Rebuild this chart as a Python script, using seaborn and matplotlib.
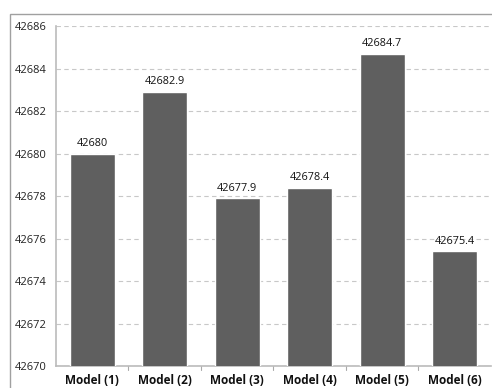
import matplotlib
matplotlib.use("Agg")
import matplotlib.pyplot as plt
import seaborn as sns
import pandas as pd
from matplotlib.patches import Rectangle

models = ["Model (1)", "Model (2)", "Model (3)", "Model (4)", "Model (5)", "Model (6)"]
values = [42680, 42682.9, 42677.9, 42678.4, 42684.7, 42675.4]
labels = ["42680", "42682.9", "42677.9", "42678.4", "42684.7", "42675.4"]
yticks = [42670, 42672, 42674, 42676, 42678, 42680, 42682, 42684, 42686]

sns.set_style("white")
plt.rcParams["font.family"] = ["Open Sans", "DejaVu Sans"]

df = pd.DataFrame({"model": models, "value": values})

fig = plt.figure(figsize=(4.92, 3.88), dpi=100)
ax = fig.add_axes([0.1138, 0.0567, 0.884, 0.876])

sns.barplot(data=df, x="model", y="value", color="#5f5f5f", saturation=1,
            width=0.62, ax=ax, zorder=3)

ax.set_ylim(42670, 42686)
ax.set_xlim(-0.5, 5.5)
ax.set_yticks(yticks)
ax.set_yticklabels([str(t) for t in yticks], fontsize=8, color="#222222")
ax.set_xlabel("")
ax.set_ylabel("")
ax.set_xticks(range(len(models)))
ax.set_xticklabels(models, fontsize=8.5, fontweight="bold", color="#111111")
ax.tick_params(axis="x", length=0, pad=6)
ax.tick_params(axis="y", length=4, color="#aaaaaa", width=0.8, pad=3)

# category separators on the x axis
for b in [0.5, 1.5, 2.5, 3.5, 4.5]:
    ax.plot([b, b], [0, -0.012], transform=ax.get_xaxis_transform(),
            color="#aaaaaa", lw=0.8, clip_on=False)

ax.yaxis.grid(True, linestyle=(0, (4, 3)), color="#c8c8c8", lw=0.8, zorder=0)
for s in ["top", "right"]:
    ax.spines[s].set_visible(False)
for s in ["left", "bottom"]:
    ax.spines[s].set_color("#bbbbbb")
    ax.spines[s].set_linewidth(1.2)

for i, (v, lab) in enumerate(zip(values, labels)):
    ax.text(i, v + 0.22, lab, ha="center", va="bottom", fontsize=7.8, color="#111111")

# outer chart frame
fig.patches.append(Rectangle((10 / 492, -0.01), 1.0, 1 - 14 / 388 + 0.01,
                             transform=fig.transFigure, fill=False,
                             edgecolor="#a0a0a0", lw=1.0))

fig.savefig("out.png", dpi=100)
